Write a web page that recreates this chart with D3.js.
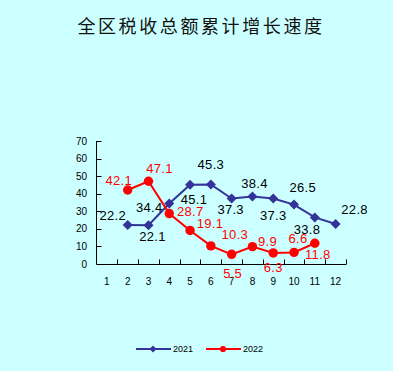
<!DOCTYPE html>
<html>
<head>
<meta charset="utf-8">
<script src="https://cdn.jsdelivr.net/npm/d3@7"></script>
<style>
  body { margin: 0; background: #ccffff; }
  svg { display: block; }
</style>
</head>
<body>
<div id="chart"></div>
<script>
// 数据
const months = ["1", "2", "3", "4", "5", "6", "7", "8", "9", "10", "11", "12"];
const months2021 = ["2", "3", "4", "5", "6", "7", "8", "9", "10", "11", "12"];
const values2021 = [22.2, 22.1, 34.4, 45.1, 45.3, 37.3, 38.4, 37.3, 33.8, 26.5, 22.8];
const months2022 = ["2", "3", "4", "5", "6", "7", "8", "9", "10", "11"];
const values2022 = [42.1, 47.1, 28.7, 19.1, 10.3, 5.5, 9.9, 6.3, 6.6, 11.8];
const yTicks = [0, 10, 20, 30, 40, 50, 60, 70];

// 标签相对数据点的偏移（手动摆放，同原图）
const labelOffset2021 = [[-15, -10], [4, 11], [-20, 4], [4, 15], [0, -20], [-1, 11],
                         [2, -13], [0, 17], [13, 25], [-12, -30], [19, -15]];
const labelOffset2022 = [[-9, -10], [11, -13], [21, -2], [20, -7], [24, -12], [1, 19],
                         [15, -5], [0, 14], [4, -14], [3, 11]];

const width = 393, height = 371;
const blue = "#333399", red = "#ff0000";

const svg = d3.select("#chart").append("svg")
    .attr("width", width)
    .attr("height", height);

svg.append("rect")
    .attr("width", width)
    .attr("height", height)
    .attr("fill", "#ccffff");

// 标题
svg.append("text")
    .attr("x", 201)
    .attr("y", 33)
    .attr("text-anchor", "middle")
    .style("font-family", "'Noto Sans CJK SC'")
    .style("font-size", "18px")
    .style("letter-spacing", "2.6px")
    .attr("fill", "#111")
    .text("全区税收总额累计增长速度");

const x = d3.scaleBand().domain(months).range([96.5, 346]);
const y = d3.scaleLinear().domain([0, 70]).range([264, 141]);
const cx = d => x(d) + x.bandwidth() / 2;

// y 轴
const yAxis = svg.append("g");
yAxis.append("line")
    .attr("x1", 96.5).attr("x2", 96.5)
    .attr("y1", y(70)).attr("y2", y(0))
    .attr("stroke", "#000");
yAxis.selectAll(".ytick")
    .data(yTicks)
    .join("line")
    .attr("x1", 96.5).attr("x2", 101.5)
    .attr("y1", d => Math.round(y(d)) + 0.5).attr("y2", d => Math.round(y(d)) + 0.5)
    .attr("stroke", "#000");
yAxis.selectAll("text")
    .data(yTicks)
    .join("text")
    .attr("x", 87)
    .attr("y", d => y(d))
    .attr("dy", "0.36em")
    .attr("text-anchor", "end")
    .style("font-family", "'Liberation Sans'")
    .style("font-size", "10px")
    .text(d => d);

// x 轴
const xAxis = svg.append("g");
xAxis.append("line")
    .attr("x1", 96.5).attr("x2", 346)
    .attr("y1", 264.5).attr("y2", 264.5)
    .attr("stroke", "#000");
xAxis.selectAll(".xtick")
    .data(months)
    .join("line")
    .attr("x1", d => Math.round(x(d) + x.bandwidth()) + 0.5)
    .attr("x2", d => Math.round(x(d) + x.bandwidth()) + 0.5)
    .attr("y1", 264.5).attr("y2", 259.5)
    .attr("stroke", "#000");
xAxis.selectAll("text")
    .data(months)
    .join("text")
    .attr("x", d => cx(d))
    .attr("y", 285)
    .attr("text-anchor", "middle")
    .style("font-family", "'Liberation Sans'")
    .style("font-size", "10px")
    .text(d => d);

// 折线
function drawSeries(ms, vals, color, marker, offsets) {
    const pts = ms.map((m, i) => [cx(m), y(vals[i]), vals[i], offsets[i]]);
    svg.append("path")
        .datum(pts)
        .attr("fill", "none")
        .attr("stroke", color)
        .attr("stroke-width", 2)
        .attr("d", d3.line().x(d => d[0]).y(d => d[1]));
    svg.append("g").selectAll("path")
        .data(pts)
        .join("path")
        .attr("transform", d => `translate(${d[0]},${d[1]})`)
        .attr("fill", color)
        .attr("d", marker);
    svg.append("g").selectAll("text")
        .data(pts)
        .join("text")
        .attr("x", d => d[0] + d[3][0])
        .attr("y", d => d[1] + d[3][1])
        .attr("dy", "0.36em")
        .attr("text-anchor", "middle")
        .style("font-family", "'Liberation Sans'")
        .style("font-size", "13px")
        .style("letter-spacing", "0.3px")
        .attr("fill", color === red ? red : "#000")
        .text(d => d3.format(".1f")(d[2]));
}

const diamond = "M0,-5L5,0L0,5L-5,0Z";
const circle = d3.symbol(d3.symbolCircle, 70)();
drawSeries(months2021, values2021, blue, diamond, labelOffset2021);
drawSeries(months2022, values2022, red, circle, labelOffset2022);

// 图例
const legendItems = [
    { name: "2021", color: blue, marker: "M0,-3.5L3.5,0L0,3.5L-3.5,0Z", x: 136 },
    { name: "2022", color: red, marker: d3.symbol(d3.symbolCircle, 30)(), x: 206 }
];
const legend = svg.append("g").attr("transform", "translate(0,349)");
legendItems.forEach(item => {
    const g = legend.append("g").attr("transform", `translate(${item.x},0)`);
    g.append("line")
        .attr("x1", 0).attr("x2", 35)
        .attr("stroke", item.color)
        .attr("stroke-width", 2);
    g.append("path")
        .attr("transform", "translate(17,0)")
        .attr("fill", item.color)
        .attr("d", item.marker);
    g.append("text")
        .attr("x", 37)
        .attr("dy", "0.36em")
        .style("font-family", "'Liberation Sans'")
        .style("font-size", "9px")
        .text(item.name);
});
</script>
</body>
</html>
